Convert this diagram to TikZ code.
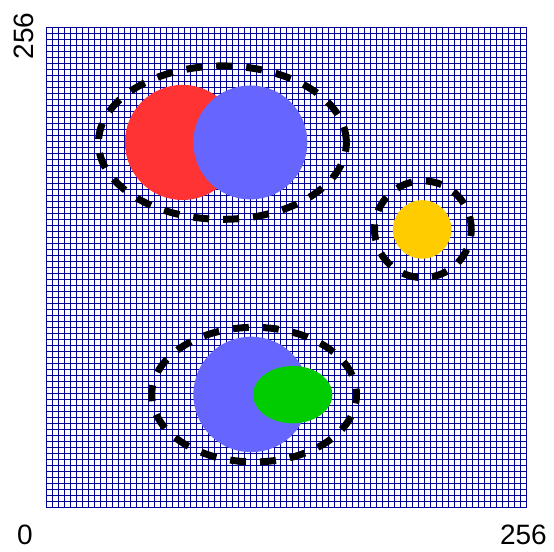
\documentclass[tikz,border=0pt]{standalone}
\usepackage{fontspec}
\setmainfont{Liberation Sans}
\usetikzlibrary{positioning}
\definecolor{gridnavy}{HTML}{000099}
\definecolor{blobred}{HTML}{FF3333}
\definecolor{blobblue}{HTML}{6666FF}
\definecolor{blobyellow}{HTML}{FFCC00}
\definecolor{blobgreen}{HTML}{00CC00}

\begin{document}
\begin{tikzpicture}[
    x=1.875pt, y=1.875pt,
    gridline/.style={draw=gridnavy, line width=0.9pt},
    hull/.style={draw=black, line width=7pt, dash pattern=on 16pt off 14pt},
    axislabel/.style={font=\fontsize{28}{28}\selectfont, inner sep=0pt},
]
    \useasboundingbox (-24.53,-23.7) rectangle (270.93,270.67);

    % Grid
    \draw[gridline] (0,0) grid[step=3.2] (256,256);

    % Hulls
    \draw[hull] (94.1,194.6) ellipse[x radius=66.1, y radius=40.9];
    \draw[hull, dash phase=3pt] (201,148.4) circle[radius=25.8];
    \draw[hull, dash phase=10pt] (111,60.2) ellipse[x radius=54.6, y radius=35.9];

    % Blobs
    \fill[blobred] (72.8,194.7) circle[radius=30.7];
    \fill[blobblue] (109,194.7) circle[radius=30.4];
    \fill[blobyellow] (200.6,148.3) circle[radius=15.6];
    \fill[blobblue] (109.4,60.3) circle[radius=30.8];
    \fill[blobgreen] (131.6,60.2) ellipse[x radius=21.1, y radius=15.3];

    % Labels
    \node[axislabel] (xmin) at (-11.2,-14.7) {0};
    \node[axislabel] (xmax) at (254.6,-14.7) {256};
    \node[axislabel, rotate=90] (ymax) at (-11.7,251.5) {256};
\end{tikzpicture}
\end{document}
